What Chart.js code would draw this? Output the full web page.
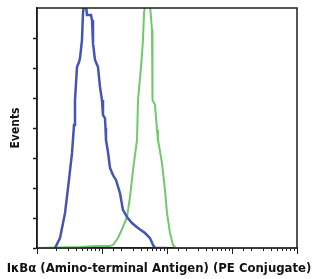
<!DOCTYPE html>
<html>
<head>
  <meta charset="UTF-8">
  <title>IκBα histogram</title>
  <script src="https://cdn.jsdelivr.net/npm/chart.js"></script>
  <style>
    body { margin: 0; background: #fff; }
    #wrap { width: 318px; height: 279px; }
  </style>
</head>
<body>
  <div id="wrap"><canvas id="histo"></canvas></div>
  <script>
    // fluorescence intensity (log axis) and event counts
    const blueX = [1.89, 2.26, 2.70, 3.00, 3.46, 3.71, 3.84, 4.125, 4.43, 4.59, 4.92, 5.10, 5.29, 5.67, 5.88, 6.77, 7.02, 7.27, 7.80, 8.68, 9.31, 10.0, 10.36, 11.12, 11.32, 11.52, 12.37, 13.28, 14.77, 16.42, 18.9, 21.0, 24.25, 28.9, 35.8, 45.9, 54.8, 60.9, 65.4, 100];
    const blueY = [0, 0.33, 1.17, 2.0, 3.17, 4.1, 4.93, 6.03, 6.2, 6.33, 6.93, 7.83, 8.1, 8.1, 7.77, 7.77, 7.6, 6.83, 6.27, 6.03, 5.37, 4.93, 4.43, 4.33, 4.0, 3.6, 3.2, 2.67, 2.43, 2.27, 1.83, 1.27, 1.03, 0.83, 0.67, 0.5, 0.33, 0.1, 0, 0];
    const greenX = [1, 4.59, 7.80, 13.28, 14.77, 17.63, 21.0, 24.25, 26.97, 30.0, 34.56, 35.8, 39.8, 42.7, 44.3, 45.9, 54.8, 58.8, 59.8, 65.4, 70.2, 72.7, 83.8, 93.1, 100, 111.2, 123.7, 137.6, 10000];
    const greenY = [0, 0.03, 0.07, 0.07, 0.1, 0.33, 0.7, 1.03, 1.7, 2.6, 3.6, 4.93, 6.03, 6.93, 7.83, 8.1, 8.1, 7.27, 4.93, 4.77, 3.93, 3.6, 2.83, 1.93, 1.17, 0.5, 0.1, 0, 0];

    const xMin = 1, xMax = 10000;
    const yMin = 0, yMax = 8;

    const xTitle = 'IκBα (Amino-terminal Antigen) (PE Conjugate)';
    const yTitle = 'Events';

    const toPoints = (xs, ys) => xs.map((x, i) => ({ x: x, y: ys[i] }));
    const isMajor = v => Math.abs(Math.log10(v) - Math.round(Math.log10(v))) < 1e-9;
    const axisColor = '#1e1e1e';
    const titleFont = { family: '"Liberation Sans Narrow", "DejaVu Sans Condensed", "Arial Narrow", sans-serif', weight: 'bold', size: 13 };

    // box around the plot and longer ticks at each decade
    const framePlugin = {
      id: 'frame',
      afterDraw(chart) {
        const { ctx, chartArea: a } = chart;
        const xs = chart.scales.x;
        ctx.save();
        ctx.strokeStyle = axisColor;
        ctx.lineWidth = 1.5;
        ctx.strokeRect(a.left, a.top, a.right - a.left, a.bottom - a.top);
        ctx.lineWidth = 1;
        xs.ticks.forEach(t => {
          if (!isMajor(t.value)) return;
          const px = Math.round(xs.getPixelForValue(t.value)) + 0.5;
          ctx.beginPath();
          ctx.moveTo(px, a.bottom);
          ctx.lineTo(px, a.bottom + 6);
          ctx.stroke();
        });
        ctx.restore();
      }
    };

    new Chart(document.getElementById('histo'), {
      type: 'line',
      data: {
        datasets: [
          {
            data: toPoints(blueX, blueY),
            borderColor: '#4456b3',
            borderWidth: 2.5,
            pointRadius: 0,
            tension: 0
          },
          {
            data: toPoints(greenX, greenY),
            borderColor: '#70c96a',
            borderWidth: 2,
            pointRadius: 0,
            tension: 0
          }
        ]
      },
      options: {
        responsive: true,
        maintainAspectRatio: false,
        animation: false,
        layout: { padding: { top: 8, left: 0, right: 0, bottom: 0 } },
        plugins: {
          legend: { display: false },
          tooltip: { enabled: false },
          title: {
            display: true,
            position: 'bottom',
            text: xTitle,
            color: '#111',
            font: titleFont,
            padding: { top: 2, bottom: 3 }
          }
        },
        scales: {
          x: {
            type: 'logarithmic',
            min: xMin,
            max: xMax,
            ticks: { display: false },
            grid: { drawOnChartArea: false, drawTicks: true, tickLength: 3, tickColor: axisColor, tickWidth: 1 },
            border: { color: axisColor, width: 1.5 },
            afterFit(scale) { scale.height = 10.4; }
          },
          y: {
            type: 'linear',
            min: yMin,
            max: yMax,
            ticks: { display: false, stepSize: 1 },
            grid: {
              drawOnChartArea: false, drawTicks: true, tickLength: 4, tickWidth: 1.5,
              tickColor: c => (c.tick && c.tick.value === yMax) ? 'rgba(0,0,0,0)' : axisColor
            },
            border: { color: axisColor, width: 1.5 },
            title: { display: true, text: yTitle, color: '#111', font: { family: titleFont.family, weight: 'bold', size: 12 }, padding: { top: 9, bottom: 0 } },
            afterFit(scale) { scale.width = 37; }
          },
          yRight: {
            position: 'right',
            min: yMin,
            max: yMax,
            ticks: { display: false },
            grid: { display: false },
            border: { display: false },
            afterFit(scale) { scale.width = 21; }
          }
        }
      },
      plugins: [framePlugin]
    });
  </script>
</body>
</html>
